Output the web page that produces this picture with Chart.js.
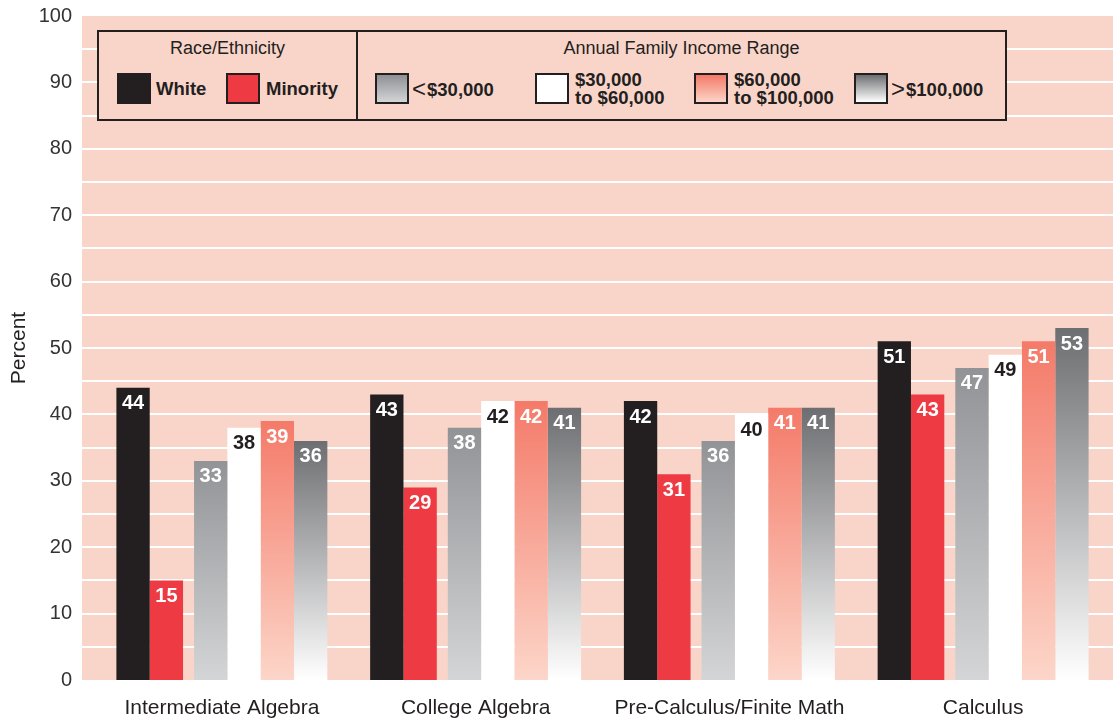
<!DOCTYPE html>
<html>
<head>
<meta charset="utf-8">
<script src="https://cdn.jsdelivr.net/npm/chart.js@4/dist/chart.umd.min.js"></script>
<style>
  body { margin: 0; background: #fff; font-family: "Liberation Sans", Arial, Helvetica, sans-serif; }
  #wrap { position: relative; width: 1113px; height: 721px; }
  #legend { position: absolute; left: 97px; top: 30px; width: 906px; height: 87px;
            border: 2px solid #231f20; background: #f9d4c9; color: #231f20; }
  #legend .sec { position: absolute; top: 0; height: 87px; }
  #legend .title { position: absolute; top: 6px; left: 0; right: 0; text-align: center; font-size: 18px; }
  #legend .sw { position: absolute; top: 41px; width: 30px; height: 27px; border: 2px solid #231f20; }
  #legend .lab { position: absolute; font-size: 18.5px; font-weight: bold; line-height: 18px; white-space: nowrap; }
  #legend .sym { font-weight: normal; font-size: 24px; margin-right: 1px; position: relative; top: 1px; }
</style>
</head>
<body>
<div id="wrap">
  <canvas id="edu-chart" width="1113" height="721"></canvas>
  <div id="legend">
    <div class="sec" style="left:0;width:257px;border-right:2px solid #231f20;">
      <div class="title">Race/Ethnicity</div>
      <div class="sw" style="left:18px;background:#231f20;"></div>
      <div class="lab" style="left:57px;top:48px;">White</div>
      <div class="sw" style="left:127px;background:#ee3a43;"></div>
      <div class="lab" style="left:167px;top:48px;">Minority</div>
    </div>
    <div class="sec" style="left:259px;width:647px;">
      <div class="title">Annual Family Income Range</div>
      <div class="sw" style="left:17px;background:linear-gradient(#8f9093,#d3d4d6);"></div>
      <div class="lab" style="left:54px;top:47px;"><span class="sym">&lt;</span>$30,000</div>
      <div class="sw" style="left:177px;background:#fff;"></div>
      <div class="lab" style="left:217px;top:39px;">$30,000<br>to $60,000</div>
      <div class="sw" style="left:336px;background:linear-gradient(#f47866,#fcd6c8);"></div>
      <div class="lab" style="left:376px;top:39px;">$60,000<br>to $100,000</div>
      <div class="sw" style="left:496px;background:linear-gradient(#6d6e71,#ffffff);"></div>
      <div class="lab" style="left:533px;top:47px;"><span class="sym">&gt;</span>$100,000</div>
    </div>
  </div>
</div>
<script>
var courses = ['Intermediate Algebra', 'College Algebra', 'Pre-Calculus/Finite Math', 'Calculus'];
var white_pct = [44, 43, 42, 51];
var minority_pct = [15, 29, 31, 43];
var under30k_pct = [33, 38, 36, 47];
var from30to60k_pct = [38, 42, 40, 49];
var from60to100k_pct = [39, 42, 41, 51];
var over100k_pct = [36, 41, 41, 53];
var y_ticks = [0, 10, 20, 30, 40, 50, 60, 70, 80, 90, 100];

var FONT = '"Liberation Sans", Arial, Helvetica, sans-serif';
var GAP = 11; // space between race group and income group

// gradient running from the top of each bar down to zero
function barGradient(top, bottom) {
    return function(c) {
        var chart = c.chart;
        if (!chart.chartArea || c.raw == null) return top;
        var y = chart.scales.y;
        var y0 = y.getPixelForValue(c.raw);
        var y1 = y.getPixelForValue(0);
        var g = chart.ctx.createLinearGradient(0, y0, 0, y1);
        g.addColorStop(0, top);
        g.addColorStop(1, bottom);
        return g;
    };
}

var backdrop = {
    id: 'backdrop',
    beforeDatasetsDraw: function(chart) {
        var ctx = chart.ctx, a = chart.chartArea, y = chart.scales.y;
        var left = a.left - 13;
        ctx.save();
        ctx.fillStyle = '#f9d4c9';
        ctx.fillRect(left, a.top, chart.width - left, a.bottom - a.top);
        ctx.strokeStyle = '#ffffff';
        ctx.lineWidth = 2;
        for (var v = 5; v < 100; v += 5) {
            var py = Math.round(y.getPixelForValue(v));
            ctx.beginPath();
            ctx.moveTo(left, py);
            ctx.lineTo(chart.width, py);
            ctx.stroke();
        }
        ctx.restore();
    }
};

// split the six bars into two groups with a small gap
var groupGap = {
    id: 'groupGap',
    afterDatasetsUpdate: function(chart) {
        chart.data.datasets.forEach(function(ds, i) {
            var shift = i < 2 ? -GAP / 2 : GAP / 2;
            chart.getDatasetMeta(i).data.forEach(function(el) { el.x += shift; });
        });
    }
};

var valueLabels = {
    id: 'valueLabels',
    afterDatasetsDraw: function(chart) {
        var ctx = chart.ctx;
        ctx.save();
        ctx.font = 'bold 20px ' + FONT;
        ctx.textAlign = 'center';
        ctx.textBaseline = 'middle';
        chart.data.datasets.forEach(function(ds, i) {
            ctx.fillStyle = i === 3 ? '#231f20' : '#ffffff';
            chart.getDatasetMeta(i).data.forEach(function(el, j) {
                ctx.fillText(String(ds.data[j]), el.x, el.y + 16);
            });
        });
        ctx.restore();
    }
};

var ctx = document.getElementById('edu-chart');
var myChart = new Chart(ctx, {
    type: 'bar',
    data: {
        labels: courses,
        datasets: [
            { label: 'White', data: white_pct, backgroundColor: '#231f20' },
            { label: 'Minority', data: minority_pct, backgroundColor: '#ee3a43' },
            { label: '<$30,000', data: under30k_pct, backgroundColor: barGradient('#929396', '#d4d5d7') },
            { label: '$30,000 to $60,000', data: from30to60k_pct, backgroundColor: '#ffffff' },
            { label: '$60,000 to $100,000', data: from60to100k_pct, backgroundColor: barGradient('#f47a69', '#fcd6c9') },
            { label: '>$100,000', data: over100k_pct, backgroundColor: barGradient('#6d6e71', '#ffffff') }
        ]
    },
    options: {
        responsive: false,
        animation: false,
        events: [],
        layout: { autoPadding: false, padding: { top: 16, right: 3, bottom: 0, left: 0 } },
        datasets: {
            bar: { categoryPercentage: 0.788, barPercentage: 1.0, borderWidth: 0 }
        },
        plugins: {
            legend: { display: false },
            tooltip: { enabled: false }
        },
        scales: {
            x: {
                afterFit: function(axis) { axis.height = 41; },
                grid: { display: false, drawTicks: false },
                border: { display: false },
                ticks: { color: '#231f20', font: { family: FONT, size: 21 }, padding: 16, maxRotation: 0 }
            },
            y: {
                min: 0,
                max: 100,
                afterBuildTicks: function(axis) {
                    axis.ticks = y_ticks.map(function(v) { return { value: v }; });
                },
                afterFit: function(axis) {
                    axis.width = 95;
                    axis.paddingTop = 0;
                    axis.paddingBottom = 0;
                },
                grid: { display: false, drawTicks: false },
                border: { display: false },
                ticks: { color: '#333333', font: { family: FONT, size: 20 }, padding: 23 },
                title: {
                    display: true,
                    text: 'Percent',
                    color: '#231f20',
                    font: { family: FONT, size: 21 },
                    padding: { top: 7, bottom: 0 }
                }
            }
        }
    },
    plugins: [backdrop, groupGap, valueLabels]
});
</script>
</body>
</html>
